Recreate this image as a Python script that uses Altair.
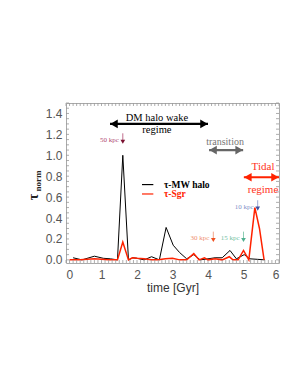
import altair as alt
import pandas as pd
import numpy as np

# ---- data ----
mw_t = [0.2, 0.45, 0.8, 1.05, 1.25, 1.45, 1.6, 1.76, 1.88, 2.0, 2.2, 2.41, 2.63, 2.82, 3.02, 3.2, 3.4, 3.6, 3.78, 4.0, 4.2, 4.4, 4.62, 4.8, 5.02, 5.18, 5.4, 5.6]
mw_v = [0.02, 0.0, 0.035, 0.015, 0.01, 0.0, 1.0, 0.0, 0.02, 0.015, 0.0, 0.03, 0.0, 0.31, 0.14, 0.07, 0.01, 0.05, 0.0, 0.01, 0.02, 0.02, 0.09, 0.01, 0.05, 0.01, 0.005, 0.0]
sgr_t = [0.1, 0.4, 0.8, 1.2, 1.45, 1.6, 1.76, 1.87, 2.0, 2.2, 2.4, 2.6, 2.8, 3.0, 3.2, 3.4, 3.6, 3.75, 3.9, 4.0, 4.2, 4.4, 4.6, 4.7, 4.85, 5.0, 5.15, 5.32, 5.45, 5.58]
sgr_v = [0.0, 0.0, 0.01, 0.0, 0.0, 0.17, 0.0, 0.02, 0.015, 0.01, 0.0, 0.0, 0.01, 0.015, 0.0, 0.0, 0.06, 0.0, 0.02, 0.0, 0.01, 0.0, 0.03, 0.0, 0.0, 0.09, 0.0, 0.5, 0.3, 0.0]

x_major = [0, 1, 2, 3, 4, 5, 6]
y_major = [0.0, 0.2, 0.4, 0.6, 0.8, 1.0, 1.2, 1.4]

# regime arrows
arr_names = ["wake", "transition", "tidal"]
arr_x1 = [1.24, 4.03, 5.01]
arr_x2 = [4.0, 4.99, 6.0]
arr_y = [1.3, 1.05, 0.79]
arr_col = ["#000000", "#666666", "#ff2200"]

# regime labels
lab_text = ["DM halo wake", "regime", "transition", "Tidal", "regime"]
lab_x = [2.56, 2.56, 4.48, 5.55, 5.55]
lab_y = [1.36, 1.24, 1.13, 0.885, 0.665]
lab_col = ["#000000", "#000000", "#777777", "#ff3322", "#ff3322"]
lab_size = [10.5, 10.5, 10, 11, 11]

# distance markers
kpc_text = ["50 kpc", "30 kpc", "15 kpc", "10 kpc"]
kpc_x = [1.6, 4.15, 5.0, 5.4]
kpc_top = [1.21, 0.27, 0.27, 0.57]
kpc_bot = [1.13, 0.19, 0.19, 0.49]
kpc_tcol = ["#b04870", "#f09070", "#70c0a0", "#8090c8"]
kpc_mcol = ["#7a1030", "#f05020", "#50b090", "#4050a0"]

# legend
leg_text = ["τ-MW halo", "τ-Sgr"]
leg_y = [0.72, 0.63]
leg_col = ["#000000", "#ff2200"]
leg_x1, leg_x2, leg_tx = 2.14, 2.46, 2.76

W, H = 213, 160
xs = alt.Scale(domain=[0, 6], nice=False, zero=False)
ys = alt.Scale(domain=[-0.03, 1.5], nice=False, zero=False)

axx = alt.Axis(values=x_major, format="d", ticks=False, domain=False, grid=False,
               labelOverlap=False,
               labelFont="Liberation Sans", labelFontSize=12, labelColor="#555555",
               labelPadding=6, title="time [Gyr]", titleFont="Liberation Sans",
               titleFontSize=12, titleFontWeight="normal", titleColor="#333333",
               titlePadding=2)
axy = alt.Axis(values=y_major, format=".1f", ticks=False, domain=False, grid=False,
               labelOverlap=False, tickCount=8,
               labelFont="Liberation Sans", labelFontSize=12, labelColor="#555555",
               labelPadding=4, title=None)


def X(f):
    return alt.X(f, scale=xs, axis=axx, title="time [Gyr]")


def Y(f):
    return alt.Y(f, scale=ys, axis=axy, title=None)


lines_df = pd.DataFrame({
    "t": mw_t + sgr_t,
    "v": mw_v + sgr_v,
    "s": ["τ-MW halo"] * len(mw_t) + ["τ-Sgr"] * len(sgr_t),
})

lines = alt.Chart(lines_df).mark_line(clip=False).encode(
    x=X("t:Q"), y=Y("v:Q"),
    color=alt.Color("s:N", scale=alt.Scale(domain=["τ-MW halo", "τ-Sgr"], range=["#000000", "#ff2200"]), legend=None),
    strokeWidth=alt.StrokeWidth("s:N", scale=alt.Scale(domain=["τ-MW halo", "τ-Sgr"], range=[1.0, 1.5]), legend=None),
)

# inward ticks
xminor = [round(v, 2) for v in np.arange(0, 6.001, 0.1)]
yminor = [round(v, 2) for v in np.arange(0, 1.5001, 0.05)]
xt_df = pd.DataFrame({"xt": xminor})
yt_df = pd.DataFrame({"yt": yminor})
tick_col = "#999999"
xt_bot = alt.Chart(xt_df).mark_rule(color=tick_col, strokeWidth=0.8).encode(
    x=X("xt:Q"), y=alt.value(H), y2=alt.YValue(H - 3))
xt_top = alt.Chart(xt_df).mark_rule(color=tick_col, strokeWidth=0.8).encode(
    x=X("xt:Q"), y=alt.value(0), y2=alt.YValue(3))
yt_left = alt.Chart(yt_df).mark_rule(color=tick_col, strokeWidth=0.8).encode(
    y=Y("yt:Q"), x=alt.value(0), x2=alt.XValue(3))
yt_right = alt.Chart(yt_df).mark_rule(color=tick_col, strokeWidth=0.8).encode(
    y=Y("yt:Q"), x=alt.value(W), x2=alt.XValue(W - 3))

# regime arrows
arr_df = pd.DataFrame({"n": arr_names, "x1": arr_x1, "x2": arr_x2, "y": arr_y, "c": arr_col})
arr_lines = alt.Chart(arr_df).mark_rule(strokeWidth=2.2, clip=False).encode(
    x=X("x1:Q"), x2="x2:Q", y=Y("y:Q"),
    color=alt.Color("c:N", scale=None))
arr_left = alt.Chart(arr_df).mark_point(shape="triangle-left", filled=True, size=75, opacity=1, xOffset=4, clip=False).encode(
    x=X("x1:Q"), y=Y("y:Q"), color=alt.Color("c:N", scale=None))
arr_right = alt.Chart(arr_df).mark_point(shape="triangle-right", filled=True, size=75, opacity=1, xOffset=-4, clip=False).encode(
    x=X("x2:Q"), y=Y("y:Q"), color=alt.Color("c:N", scale=None))

lab_df = pd.DataFrame({"text": lab_text, "x": lab_x, "y": lab_y, "c": lab_col, "s": lab_size})
labels = alt.Chart(lab_df).mark_text(font="Liberation Serif", baseline="middle", align="center").encode(
    x=X("x:Q"), y=Y("y:Q"), text="text:N",
    color=alt.Color("c:N", scale=None), size=alt.Size("s:Q", scale=None))

kpc_df = pd.DataFrame({"text": kpc_text, "x": kpc_x, "top": kpc_top, "bot": kpc_bot, "tc": kpc_tcol, "mc": kpc_mcol})
kpc_lines = alt.Chart(kpc_df).mark_rule(strokeWidth=0.8).encode(
    x=X("x:Q"), y=Y("top:Q"), y2="bot:Q", color=alt.Color("tc:N", scale=None))
kpc_tri = alt.Chart(kpc_df).mark_point(shape="triangle-down", filled=True, size=22, opacity=1).encode(
    x=X("x:Q"), y=Y("bot:Q"), color=alt.Color("mc:N", scale=None))
kpc_txt = alt.Chart(kpc_df).mark_text(font="Liberation Serif", fontSize=7, align="right", dx=-4, dy=-2).encode(
    x=X("x:Q"), y=Y("bot:Q"), text="text:N", color=alt.Color("tc:N", scale=None))

leg_df = pd.DataFrame({"text": leg_text, "y": leg_y, "c": leg_col,
                       "x1": [leg_x1] * 2, "x2": [leg_x2] * 2, "tx": [leg_tx] * 2})
leg_lines = alt.Chart(leg_df).mark_rule(strokeWidth=1.2).encode(
    x=X("x1:Q"), x2="x2:Q", y=Y("y:Q"), color=alt.Color("c:N", scale=None))
leg_txt = alt.Chart(leg_df).mark_text(font="Liberation Serif", fontSize=9.5, fontWeight="bold", align="left", baseline="middle").encode(
    x=X("tx:Q"), y=Y("y:Q"), text="text:N", color=alt.Color("c:N", scale=None))

# y-axis title: tau with subscript "norm" (pixel positions relative to plot area)
tau = alt.Chart(pd.DataFrame({"text": ["τ"]})).mark_text(
    angle=270, font="Liberation Serif", fontWeight="bold", fontSize=14, color="#222222",
    baseline="middle", align="center").encode(x=alt.value(-32), y=alt.value(94), text="text:N")
norm = alt.Chart(pd.DataFrame({"text": ["norm"]})).mark_text(
    angle=270, font="Liberation Serif", fontWeight="bold", fontSize=9, color="#222222",
    baseline="middle", align="center").encode(x=alt.value(-28), y=alt.value(78), text="text:N")

chart = alt.layer(
    lines, xt_bot, xt_top, yt_left, yt_right,
    arr_lines, arr_left, arr_right, labels,
    kpc_lines, kpc_tri, kpc_txt, leg_lines, leg_txt, tau, norm
).properties(
    width=W, height=H,
    autosize=alt.AutoSizeParams(type="none"),
    padding={"left": 66, "top": 103, "right": 20, "bottom": 124},
    background="white",
).configure_view(stroke="#aaaaaa", strokeWidth=1)

chart.save("out.html", embed_options={"renderer": "svg", "actions": False})
